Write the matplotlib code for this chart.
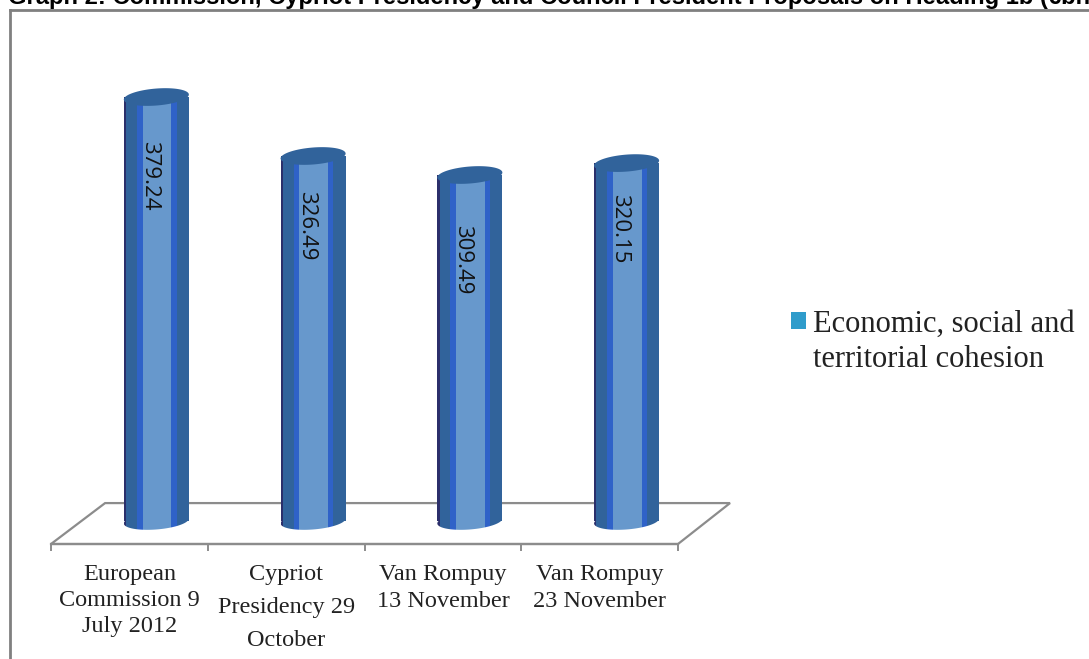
import numpy as np
import matplotlib
matplotlib.use('Agg')
import matplotlib.pyplot as plt
from matplotlib.lines import Line2D
from matplotlib.patches import Patch, Polygon, Rectangle

# Data
categories = ['European\nCommission 9\nJuly 2012', 'Cypriot\nPresidency 29\nOctober',
              'Van Rompuy\n13 November', 'Van Rompuy\n23 November']
values = [379.24, 326.49, 309.49, 320.15]
series_lines = ['Economic, social and', 'territorial cohesion']
title = 'Graph 2: Commission, Cypriot Presidency and Council President Proposals on Heading 1b (€bn)'

W, H = 1089, 659
fig = plt.figure(figsize=(W / 100, H / 100), dpi=100, facecolor='white')
ax = fig.add_axes([51 / W, 1 - 544 / H, 627 / W, 514 / H])
ax.set_xlim(-0.5, 3.5)
ax.set_ylim(-20.6, 439.2)
ax.patch.set_alpha(0)

grey = '#8c8c8c'
navy = '#2b2f6b'
dark = '#31639b'
blue = '#2f62c8'
light = '#6798cc'

# cylinder stripes: start, end as a share of the bar width
stripes = [(0.00, 0.035, navy), (0.035, 0.20, dark), (0.20, 0.29, blue),
           (0.29, 0.73, light), (0.73, 0.81, blue), (0.81, 1.00, dark)]
bar_width = 0.415
bar_shift = 0.172  # bars stand back on the floor, right of the tick centres
cap_height = 7.6
cap_tilt = 2.2
label_drop = [32, 25, 36, 22]  # points below the bar top


def ellipse_pts(xc, v):
    t = np.linspace(0, 2 * np.pi, 120)
    xs = xc + bar_width / 2 * np.cos(t)
    ys = v + cap_height * np.sin(t) + cap_tilt * np.cos(t)
    return np.column_stack([xs, ys])


# floor
floor = Polygon([(-0.5, -20.6), (-0.155, 16), (3.832, 16), (3.5, -20.6)], closed=True,
                fill=False, edgecolor=grey, lw=1.6, clip_on=False, zorder=1)
ax.add_patch(floor)

for i, v in enumerate(values):
    xc = i + bar_shift
    left = xc - bar_width / 2
    for s0, s1, col in stripes:
        x0 = left + s0 * bar_width
        w = (s1 - s0) * bar_width
        ax.bar(x0, v, width=w, align='edge', color=col, linewidth=0, zorder=3)
        # rounded bottom, one stripe at a time
        base = Polygon(ellipse_pts(xc, 0), closed=True, facecolor=col, edgecolor='none', zorder=3)
        ax.add_patch(base)
        base.set_clip_path(Rectangle((x0, -40), w, 80, transform=ax.transData))
    ax.add_patch(Polygon(ellipse_pts(xc, v), closed=True, facecolor=dark, edgecolor='none', zorder=4))
    ax.annotate(f'{v:.2f}', xy=(xc, v), xytext=(-5, -label_drop[i]), textcoords='offset points',
                rotation=-90, ha='center', va='top', fontsize=16, color='#111111',
                family='Open Sans', zorder=5)

# axes and ticks
for name in ['top', 'left', 'right']:
    ax.spines[name].set_visible(False)
ax.spines['bottom'].set_color(grey)
ax.spines['bottom'].set_linewidth(1.6)
ax.set_yticks([])
ax.set_xticks(np.arange(-0.5, 4, 1), minor=True)
ax.tick_params(axis='x', which='minor', length=5, width=1.4, color=grey)
ax.set_xticks(range(len(categories)))
ax.set_xticklabels(categories, family='Liberation Serif', fontsize=17.5, color='#222222')
ax.tick_params(axis='x', which='major', length=0, pad=14.5)
for lab, sp in zip(ax.get_xticklabels(), [1.3, 1.75, 1.35, 1.35]):
    lab.set_linespacing(sp)

# legend, second entry only carries the wrapped line of the series name
handles = [Patch(facecolor='#2f9ccb', edgecolor='none', label=series_lines[0]),
           Patch(facecolor='none', edgecolor='none', label=series_lines[1])]
fig.legend(handles=handles, loc='upper left', bbox_to_anchor=(767 / W, 1 - 285 / H),
           frameon=False, prop={'family': 'Liberation Serif', 'size': 22},
           handlelength=0.49, handleheight=0.49, handletextpad=0.2, labelspacing=0.22,
           labelcolor='#222222', borderpad=0.3)

# picture frame, open at the right and at the bottom
fig.add_artist(Line2D([9.5 / W, 9.5 / W], [0, 1 - 9.5 / H], color='#808080', lw=2))
fig.add_artist(Line2D([9.5 / W, 1], [1 - 9.5 / H, 1 - 9.5 / H], color='#808080', lw=2))

fig.text(8 / W, 1 - 4 / H, title, family='Liberation Sans', fontweight='bold',
         fontsize=17.1, color='black', ha='left', va='baseline')

fig.savefig('out.png', dpi=100)
